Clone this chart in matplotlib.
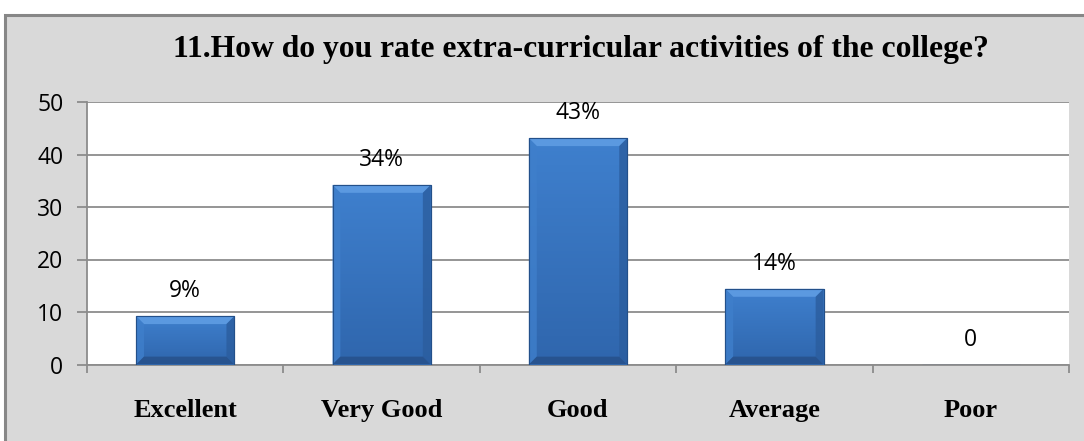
import matplotlib
matplotlib.use("Agg")
import matplotlib.pyplot as plt
import numpy as np
from matplotlib.patches import Rectangle, Polygon

categories = ["Excellent", "Very Good", "Good", "Average", "Poor"]
values = [9.2, 34.2, 43.1, 14.4, 0]
labels = ["9%", "34%", "43%", "14%", "0"]
yticks = [0, 10, 20, 30, 40, 50]
title = "11.How do you rate extra-curricular activities of the college?"

W, H = 1084, 441
fig = plt.figure(figsize=(W / 100, H / 100), dpi=100)
fig.patch.set_facecolor("white")

# chart area background with border (left and top visible)
bg = Rectangle((5 / W, -0.1), 1.2, (H - 15) / H + 0.1, transform=fig.transFigure,
               facecolor="#d9d9d9", edgecolor="#878787", linewidth=2.2, zorder=-10)
fig.patches.append(bg)

ax = fig.add_axes([87 / W, (H - 364.5) / H, (1069 - 87) / W, (364.5 - 102) / H])
ax.set_facecolor("white")
x = np.arange(len(categories))
bars = ax.bar(x, values, width=0.5, color="#3d7cc9", edgecolor="#27558f", linewidth=0.8, zorder=3)

# bevel / gradient effect derived from each bar's geometry
grad = np.linspace(0, 1, 64).reshape(-1, 1)
cmap = matplotlib.colors.LinearSegmentedColormap.from_list("g", ["#2f66ad", "#3f80ce"])
for b in bars:
    bx, by, bw, bh = b.get_x(), b.get_y(), b.get_width(), b.get_height()
    if bh <= 0:
        continue
    im = ax.imshow(grad, extent=(bx, bx + bw, by, bh), origin="lower", cmap=cmap,
                   aspect="auto", zorder=3.5)
    im.set_clip_path(b)
    dx = bw * 0.08
    dy = min(bh * 0.3, 1.5)
    ax.add_patch(Polygon([(bx, bh), (bx + bw, bh), (bx + bw - dx, bh - dy), (bx + dx, bh - dy)],
                         closed=True, facecolor="#5b99e0", edgecolor="none", zorder=4))
    ax.add_patch(Polygon([(bx, by), (bx, bh), (bx + dx, bh - dy), (bx + dx, by + dy)],
                         closed=True, facecolor="#3f7fcb", edgecolor="none", alpha=0.8, zorder=4))
    ax.add_patch(Polygon([(bx + bw, by), (bx + bw, bh), (bx + bw - dx, bh - dy), (bx + bw - dx, by + dy)],
                         closed=True, facecolor="#2b5d9e", edgecolor="none", alpha=0.8, zorder=4))
    ax.add_patch(Polygon([(bx, by), (bx + bw, by), (bx + bw - dx, by + dy), (bx + dx, by + dy)],
                         closed=True, facecolor="#264f88", edgecolor="none", alpha=0.8, zorder=4))
    ax.add_patch(Rectangle((bx, by), bw, bh, facecolor="none", edgecolor="#23508a",
                           linewidth=0.8, zorder=5))

for xi, v, lab in zip(x, values, labels):
    ax.annotate(lab, (xi, v), xytext=(0, 25), textcoords="offset pixels",
                ha="center", va="center", fontsize=16.5, family="Open Sans", color="black", zorder=6)

ax.set_xlim(-0.5, len(categories) - 0.5)
ax.set_ylim(0, 50)
ax.set_yticks(yticks)
ax.set_yticklabels([str(t) for t in yticks], fontsize=16.5, family="Open Sans")
ax.yaxis.grid(True, color="#8c8c8c", linewidth=1.3, zorder=1)
ax.set_axisbelow(True)

ax.set_xticks(x)
ax.set_xticklabels(categories, fontsize=19, family="Liberation Serif", fontweight="bold")
ax.set_xticks(np.arange(len(categories) + 1) - 0.5, minor=True)
ax.tick_params(axis="x", which="major", length=0, pad=25)
ax.tick_params(axis="x", which="minor", length=6, width=1.3, color="#8c8c8c")
ax.tick_params(axis="y", length=7, width=1.3, color="#8c8c8c", pad=10)

for s in ["top", "right"]:
    ax.spines[s].set_visible(False)
for s in ["left", "bottom"]:
    ax.spines[s].set_color("#8c8c8c")
    ax.spines[s].set_linewidth(1.3)

fig.text((87 + 1069) / 2 / W + 0.003, (H - 50) / H, title, ha="center", va="center",
         fontsize=22.8, family="Liberation Serif", fontweight="bold")

fig.savefig("out.png", dpi=100)
